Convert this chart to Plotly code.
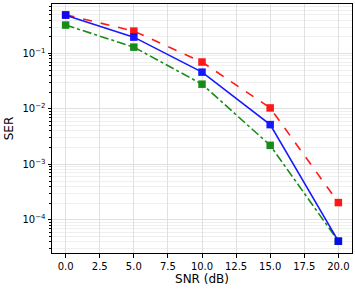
import plotly.graph_objects as go

snr = [0, 5, 10, 15, 20]
ser_red = [0.50, 0.253, 0.070, 0.0104, 2.04e-4]
ser_blue = [0.49, 0.197, 0.046, 0.0052, 4.1e-5]
ser_green = [0.325, 0.13, 0.0279, 0.0022, 4.1e-5]

xticks = [0, 2.5, 5, 7.5, 10, 12.5, 15, 17.5, 20]
xtick_labels = ["0.0", "2.5", "5.0", "7.5", "10.0", "12.5", "15.0", "17.5", "20.0"]
ytick_vals = [1e-4, 1e-3, 1e-2, 1e-1]
ytick_labels = ["10<sup>−4</sup>", "10<sup>−3</sup>", "10<sup>−2</sup>", "10<sup>−1</sup>"]

fig = go.Figure()
fig.add_trace(go.Scatter(x=snr, y=ser_red, mode="lines+markers",
                         line=dict(color="#ff0000", width=1.6, dash="dash"),
                         marker=dict(symbol="square", size=7.5, color="#ff0000"),
                         opacity=0.9))
fig.add_trace(go.Scatter(x=snr, y=ser_green, mode="lines+markers",
                         line=dict(color="#008000", width=1.6, dash="dashdot"),
                         marker=dict(symbol="square", size=7.5, color="#008000"),
                         opacity=0.9))
fig.add_trace(go.Scatter(x=snr, y=ser_blue, mode="lines+markers",
                         line=dict(color="#0000ff", width=1.6),
                         marker=dict(symbol="square", size=7.5, color="#0000ff"),
                         opacity=0.9))

fig.update_layout(
    width=355, height=292,
    margin=dict(l=52, r=3, t=4, b=39),
    plot_bgcolor="white", paper_bgcolor="white",
    showlegend=False,
    font=dict(family="DejaVu Sans", size=10, color="black"),
)
fig.update_xaxes(range=[-1, 21], tickvals=xticks, ticktext=xtick_labels,
                 automargin=False,
                 showline=True, linecolor="black", linewidth=1, mirror=True,
                 ticks="outside", ticklen=3.5, tickcolor="black",
                 showgrid=True, gridcolor="#e0e0e0", gridwidth=1, zeroline=False,
                 title=dict(text="SNR (dB)", standoff=4))
fig.update_yaxes(type="log", range=[-4.60, -0.108], tickvals=ytick_vals, ticktext=ytick_labels,
                 automargin=False,
                 showline=True, linecolor="black", linewidth=1, mirror=True,
                 ticks="outside", ticklen=3.5, tickcolor="black",
                 showgrid=True, gridcolor="#e0e0e0", gridwidth=1, zeroline=False,
                 minor=dict(ticks="outside", ticklen=2, tickcolor="black",
                            showgrid=True, gridcolor="#efefef", gridwidth=1,
                            dtick="D1"),
                 title=dict(text="SER", standoff=6))

fig.write_html("out.html", config={"displayModeBar": False},
               post_script="document.body.style.margin='0';document.body.style.overflow='hidden';")
